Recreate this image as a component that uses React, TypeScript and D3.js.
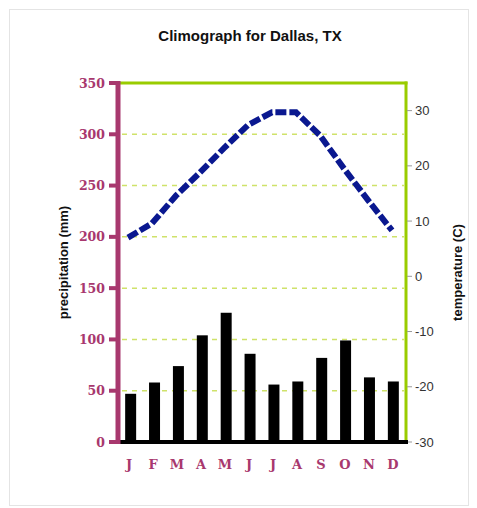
import React from "react";
import * as d3 from "d3";

const months = ["J", "F", "M", "A", "M", "J", "J", "A", "S", "O", "N", "D"];
const precipitation = [47, 58, 74, 104, 126, 86, 56, 59, 82, 99, 63, 59];
const temperature = [7, 9.6, 14.6, 18.8, 23.2, 27.4, 29.7, 29.7, 25.5, 19.5, 13.8, 8.3];
const precipTicks = [0, 50, 100, 150, 200, 250, 300, 350];
const tempTicks = [-30, -20, -10, 0, 10, 20, 30];

const W = 477;
const H = 508;
const left = 118;
const right = 406;
const top = 83;
const bottom = 442;

const magenta = "#a8386e";
const green = "#99cc00";

export default function App() {
  const keys = months.map((m, i) => i);
  const x = d3.scaleBand<number>().domain(keys).range([left, right]).paddingInner(0.54).paddingOuter(0.3);
  const xc = d3.scaleBand<number>().domain(keys).range([left, right]);
  const yP = d3.scaleLinear().domain([0, 350]).range([bottom, top]);
  const yT = d3.scaleLinear().domain([-30, 35]).range([bottom, top]);

  const line = d3
    .line<number>()
    .x((d, i) => xc(i)! + xc.bandwidth() / 2 - 2)
    .y((d) => yT(d));

  return (
    <svg width={W} height={H} style={{ position: "absolute", left: 0, top: 0, background: "#fff" }}>
      <rect x={9.5} y={9.5} width={459} height={496} fill="#fff" stroke="#e4e4e4" />
      <text x={250} y={41} textAnchor="middle" fontFamily="Liberation Sans, Arial, sans-serif" fontWeight="bold" fontSize={15} fill="#111">
        Climograph for Dallas, TX
      </text>

      {/* grid */}
      {precipTicks.slice(1, -1).map((t) => (
        <line key={t} x1={left + 4} x2={right - 2} y1={yP(t)} y2={yP(t)} stroke="#cfe26a" strokeWidth={1.5} strokeDasharray="5,5" />
      ))}
      <line x1={left} x2={right + 1.5} y1={top} y2={top} stroke={green} strokeWidth={3} />

      {/* bars */}
      {precipitation.map((v, i) => (
        <rect key={i} x={x(i)} y={yP(v)} width={x.bandwidth()} height={bottom - yP(v)} fill="#000" />
      ))}

      {/* temperature line */}
      <path d={line(temperature)!} fill="none" stroke="#0a1890" strokeWidth={6} strokeDasharray="11,3" strokeLinejoin="miter" strokeLinecap="butt" />

      {/* right axis */}
      <line x1={right} x2={right} y1={top - 1.5} y2={bottom} stroke={green} strokeWidth={3} />
      {tempTicks.map((t) => (
        <g key={t}>
          <line x1={right + 1} x2={right + 6} y1={yT(t)} y2={yT(t)} stroke="#999" strokeWidth={1} />
          <text x={right + 9} y={yT(t) + 4.5} fontFamily="Liberation Sans, Arial, sans-serif" fontSize={13} fill="#333">
            {t}
          </text>
        </g>
      ))}

      {/* bottom axis */}
      <line x1={left} x2={right + 2} y1={bottom} y2={bottom} stroke="#000" strokeWidth={4} />

      {/* left axis */}
      <line x1={left} x2={left} y1={top - 2} y2={bottom + 2} stroke={magenta} strokeWidth={5} />
      {precipTicks.map((t) => (
        <g key={t}>
          <rect x={left - 9} y={yP(t) - 2} width={7} height={4} fill={magenta} />
          <text x={left - 13} y={yP(t) + 4.5} textAnchor="end" fontFamily="DejaVu Serif, serif" fontWeight="bold" fontSize={12.5} fill={magenta}>
            {t}
          </text>
        </g>
      ))}

      {/* month labels */}
      {months.map((m, i) => (
        <text key={i} x={xc(i)! + xc.bandwidth() / 2 - 1} y={469} textAnchor="middle" fontFamily="DejaVu Serif, serif" fontWeight="bold" fontSize={13} fill={magenta}>
          {m}
        </text>
      ))}

      {/* axis titles */}
      <text transform={`translate(68,${(top + bottom) / 2}) rotate(-90)`} textAnchor="middle" fontFamily="Liberation Sans, Arial, sans-serif" fontWeight="bold" fontSize={13} fill="#111">
        precipitation (mm)
      </text>
      <text transform={`translate(462,${(top + bottom) / 2 + 10}) rotate(-90)`} textAnchor="middle" fontFamily="Liberation Sans, Arial, sans-serif" fontWeight="bold" fontSize={13} fill="#111">
        temperature (C)
      </text>
    </svg>
  );
}
